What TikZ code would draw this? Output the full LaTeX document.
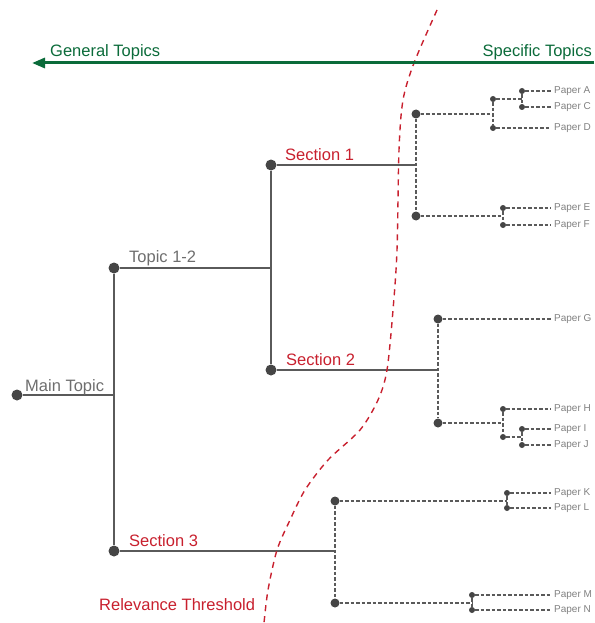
\documentclass[tikz,border=0pt]{standalone}
\usepackage{fontspec}
\setmainfont{Liberation Sans}
\usepackage{tikz}
\usetikzlibrary{arrows.meta}
\definecolor{treegrey}{HTML}{5A5A5A}
\definecolor{dotgrey}{HTML}{454545}
\definecolor{lblgrey}{HTML}{6E6E6E}
\definecolor{papergrey}{HTML}{808080}
\definecolor{secred}{HTML}{C8202E}
\definecolor{topicgreen}{HTML}{0B6B3A}

\begin{document}
\begin{tikzpicture}[x=1pt,y=-1pt,
  dot/.style={circle,fill=dotgrey,inner sep=0pt,minimum size=#1},
  dot/.default=11pt,
  tree/.style={draw=treegrey,line width=1.5pt},
  leaf/.style={draw=treegrey,line width=1.2pt,dash pattern=on 3.5pt off 2pt},
  paper/.style={anchor=west,inner sep=3pt,text=papergrey,font=\fontsize{10}{12}\selectfont},
  lbl/.style={anchor=base west,inner sep=0pt,text=lblgrey,font=\fontsize{16.5}{20}\selectfont},
  seclbl/.style={lbl,text=secred}]
\useasboundingbox (0,0) rectangle (594,623);

% main branches
\node[dot] (main) at (17,395) {};
\node[dot] (topic) at (114,268) {};
\node[dot] (sec1) at (271,165) {};
\node[dot] (sec2) at (271,370) {};
\node[dot] (sec3) at (114,551) {};
\draw[tree] (main) -- (main -| topic);
\draw[tree] (topic) -- (sec3);
\draw[tree] (topic) -- (topic -| sec1);
\draw[tree] (sec1) -- (sec2);
\node[lbl] (mainlbl) at (25,391) {Main Topic};
\node[lbl] (topiclbl) at (129,262) {Topic 1-2};
\node[seclbl] (sec1lbl) at (285,160) {Section 1};
\node[seclbl] (sec2lbl) at (286,365) {Section 2};
\node[seclbl] (sec3lbl) at (129,546) {Section 3};

% section 1
\node[dot=9pt] (s1a) at (416,114) {};
\node[dot=9pt] (s1b) at (416,216) {};
\node[dot=6pt] (s1c) at (493,99) {};
\node[dot=6pt] (s1d) at (493,128) {};
\node[dot=6pt] (s1e) at (522,91) {};
\node[dot=6pt] (s1f) at (522,107) {};
\node[dot=6pt] (s1g) at (503,208) {};
\node[dot=6pt] (s1h) at (503,225) {};
\draw[tree] (sec1) -- (sec1 -| s1a);
\draw[leaf] (s1a) -- (s1b);
\draw[leaf] (s1a) -- (s1a -| s1c);
\draw[leaf] (s1c) -- (s1d);
\draw[leaf] (s1c) -- (s1c -| s1e);
\draw[leaf] (s1e) -- (s1f);
\draw[leaf] (s1b) -- (s1b -| s1g);
\draw[leaf] (s1g) -- (s1h);
\node[paper] (pA) at (551,91) {Paper A};
\node[paper] (pC) at (551,107) {Paper C};
\node[paper] (pD) at (551,128) {Paper D};
\node[paper] (pE) at (551,208) {Paper E};
\node[paper] (pF) at (551,225) {Paper F};
\draw[leaf] (s1e) -- (pA);
\draw[leaf] (s1f) -- (pC);
\draw[leaf] (s1d) -- (pD);
\draw[leaf] (s1g) -- (pE);
\draw[leaf] (s1h) -- (pF);

% section 2
\node[dot=9pt] (s2a) at (438,319) {};
\node[dot=9pt] (s2b) at (438,423) {};
\node[dot=6pt] (s2c) at (503,409) {};
\node[dot=6pt] (s2d) at (503,437) {};
\node[dot=6pt] (s2e) at (522,429) {};
\node[dot=6pt] (s2f) at (522,445) {};
\draw[tree] (sec2) -- (sec2 -| s2a);
\draw[leaf] (s2a) -- (s2b);
\draw[leaf] (s2b) -- (s2b -| s2c);
\draw[leaf] (s2c) -- (s2d);
\draw[leaf] (s2d) -- (s2d -| s2e);
\draw[leaf] (s2e) -- (s2f);
\node[paper] (pG) at (551,319) {Paper G};
\node[paper] (pH) at (551,409) {Paper H};
\node[paper] (pI) at (551,429) {Paper I};
\node[paper] (pJ) at (551,445) {Paper J};
\draw[leaf] (s2a) -- (pG);
\draw[leaf] (s2c) -- (pH);
\draw[leaf] (s2e) -- (pI);
\draw[leaf] (s2f) -- (pJ);

% section 3
\node[dot=9pt] (s3a) at (335,501) {};
\node[dot=9pt] (s3b) at (335,603) {};
\node[dot=6pt] (s3c) at (507,493) {};
\node[dot=6pt] (s3d) at (507,508) {};
\node[dot=6pt] (s3e) at (472,595) {};
\node[dot=6pt] (s3f) at (472,610) {};
\draw[tree] (sec3) -- (sec3 -| s3a);
\draw[leaf] (s3a) -- (s3b);
\draw[leaf] (s3a) -- (s3a -| s3c);
\draw[leaf] (s3c) -- (s3d);
\draw[leaf] (s3b) -- (s3b -| s3e);
\draw[leaf] (s3e) -- (s3f);
\node[paper] (pK) at (551,493) {Paper K};
\node[paper] (pL) at (551,508) {Paper L};
\node[paper] (pM) at (551,595) {Paper M};
\node[paper] (pN) at (551,610) {Paper N};
\draw[leaf] (s3c) -- (pK);
\draw[leaf] (s3d) -- (pL);
\draw[leaf] (s3e) -- (pM);
\draw[leaf] (s3f) -- (pN);

% relevance threshold
\draw[secred,line width=1.4pt,dash pattern=on 6pt off 5pt]
  plot[smooth] coordinates {(437,10) (414,63) (403,100) (399,150) (397,250) (393,310)
    (387,370) (378,400) (360,430) (328,460) (305,490) (290,520) (277,550) (268,590) (264,623)};
\node[lbl,text=secred] (thrlbl) at (99,610) {Relevance Threshold};

% general vs specific
\coordinate (arrR) at (594,63);
\coordinate (arrL) at (32,63);
\draw[topicgreen,line width=3pt,-{Triangle[length=13pt,width=10pt]}] (arrR) -- (arrL);
\node[lbl,text=topicgreen] (genlbl) at (50,57) {General Topics};
\node[lbl,text=topicgreen,anchor=base east] (speclbl) at (592,57) {Specific Topics};
\end{tikzpicture}
\end{document}
